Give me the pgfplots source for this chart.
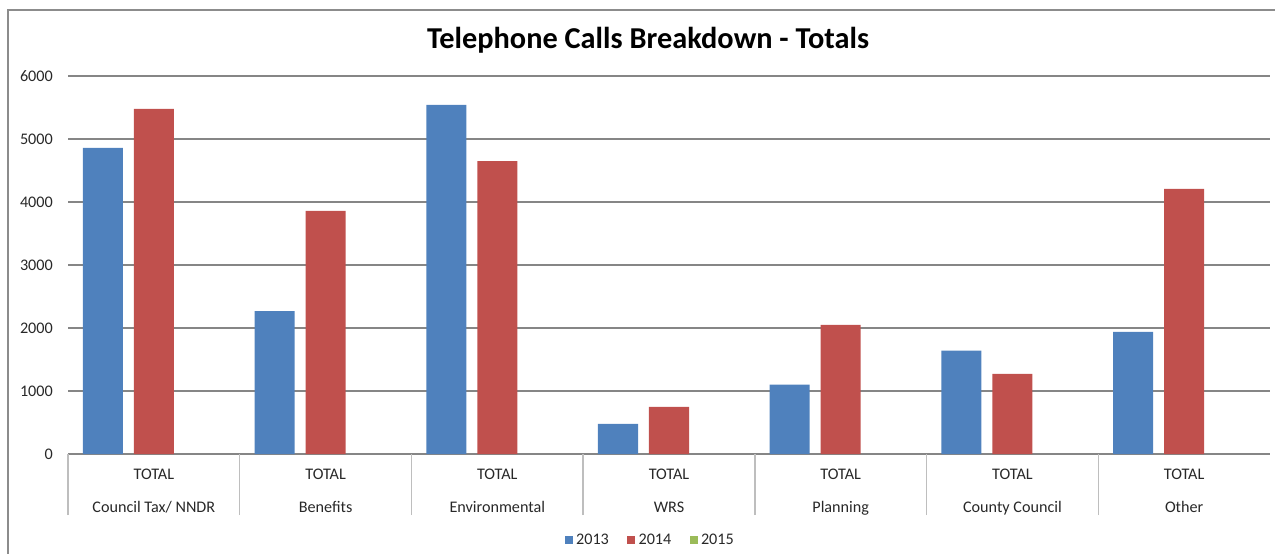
\documentclass[border=0pt]{standalone}
\usepackage{fontspec}
\setmainfont{Carlito}
\usepackage{pgfplots}
\pgfplotsset{compat=1.18}
\definecolor{cA}{RGB}{79,129,189}
\definecolor{cB}{RGB}{192,80,77}
\definecolor{cC}{RGB}{155,187,89}
\definecolor{gridg}{RGB}{134,134,134}
\definecolor{sepg}{RGB}{190,190,190}
\definecolor{frameg}{RGB}{140,140,140}
\definecolor{txt}{RGB}{40,40,40}
\begin{document}
\begin{tikzpicture}
\useasboundingbox (0pt,0pt) rectangle (765pt,-331.8pt);
\draw[frameg, line width=1.1pt] (4.8pt,-6pt) rectangle (820pt,-400pt);
\node[font=\fontsize{18.2}{21}\selectfont\bfseries, text=black] at (388.8pt,-24.2pt) {Telephone Calls Breakdown - Totals};
\begin{axis}[
  at={(40.8pt,-272.4pt)}, anchor=south west,
  width=721.2pt, height=226.8pt, scale only axis,
  xmin=-0.5, xmax=6.5, ymin=0, ymax=6000,
  ybar, bar width=0.233,
  axis x line*=bottom, axis y line*=left,
  x axis line style={-, draw=gridg, line width=0.7pt},
  y axis line style={draw=none},
  major tick length=0pt,
  ytick={0,1000,...,6000},
  ymajorgrids, grid style={gridg, line width=0.7pt},
  scaled y ticks=false,
  /pgf/number format/.cd, 1000 sep={}, assume math mode=true, /pgfplots/.cd,
  yticklabel style={font=\fontsize{9.7}{11}\selectfont, text=txt, xshift=-5.6pt},
  xtick={0,...,6},
  xticklabels={{TOTAL\\[8.2pt]Council Tax/ NNDR},{TOTAL\\[8.2pt]Benefits},{TOTAL\\[8.2pt]Environmental},{TOTAL\\[8.2pt]WRS},{TOTAL\\[8.2pt]Planning},{TOTAL\\[8.2pt]County Council},{TOTAL\\[8.2pt]Other}},
  xticklabel style={font=\fontsize{9.7}{11.6}\selectfont, text=txt, align=center, yshift=-5.5pt},
  extra x ticks={-0.5,0.5,...,5.5},
  extra x tick labels={},
  extra x tick style={major tick length=36.6pt, tick align=outside, tick style={draw=sepg, line width=0.8pt}},
  legend style={at={(0.485,-0.228)}, anchor=center, draw=none, fill=none,
    font=\fontsize{9.7}{11}\selectfont, text=txt,
    /tikz/every even column/.append style={column sep=9pt},
    inner sep=0pt},
  legend columns=3,
  legend image code/.code={\fill[#1] (0pt,-2.4pt) rectangle (4.8pt,2.4pt);},
]
\addplot[fill=cA, draw=none, bar shift=-0.297] coordinates {(0,4860) (1,2270) (2,5540) (3,480) (4,1100) (5,1640) (6,1940)};
\addlegendentry{2013}
\addplot[fill=cB, draw=none, bar shift=0] coordinates {(0,5480) (1,3860) (2,4650) (3,750) (4,2050) (5,1270) (6,4210)};
\addlegendentry{2014}
\addlegendimage{fill=cC, draw=none}
\addlegendentry{2015}
\end{axis}
\end{tikzpicture}
\end{document}
